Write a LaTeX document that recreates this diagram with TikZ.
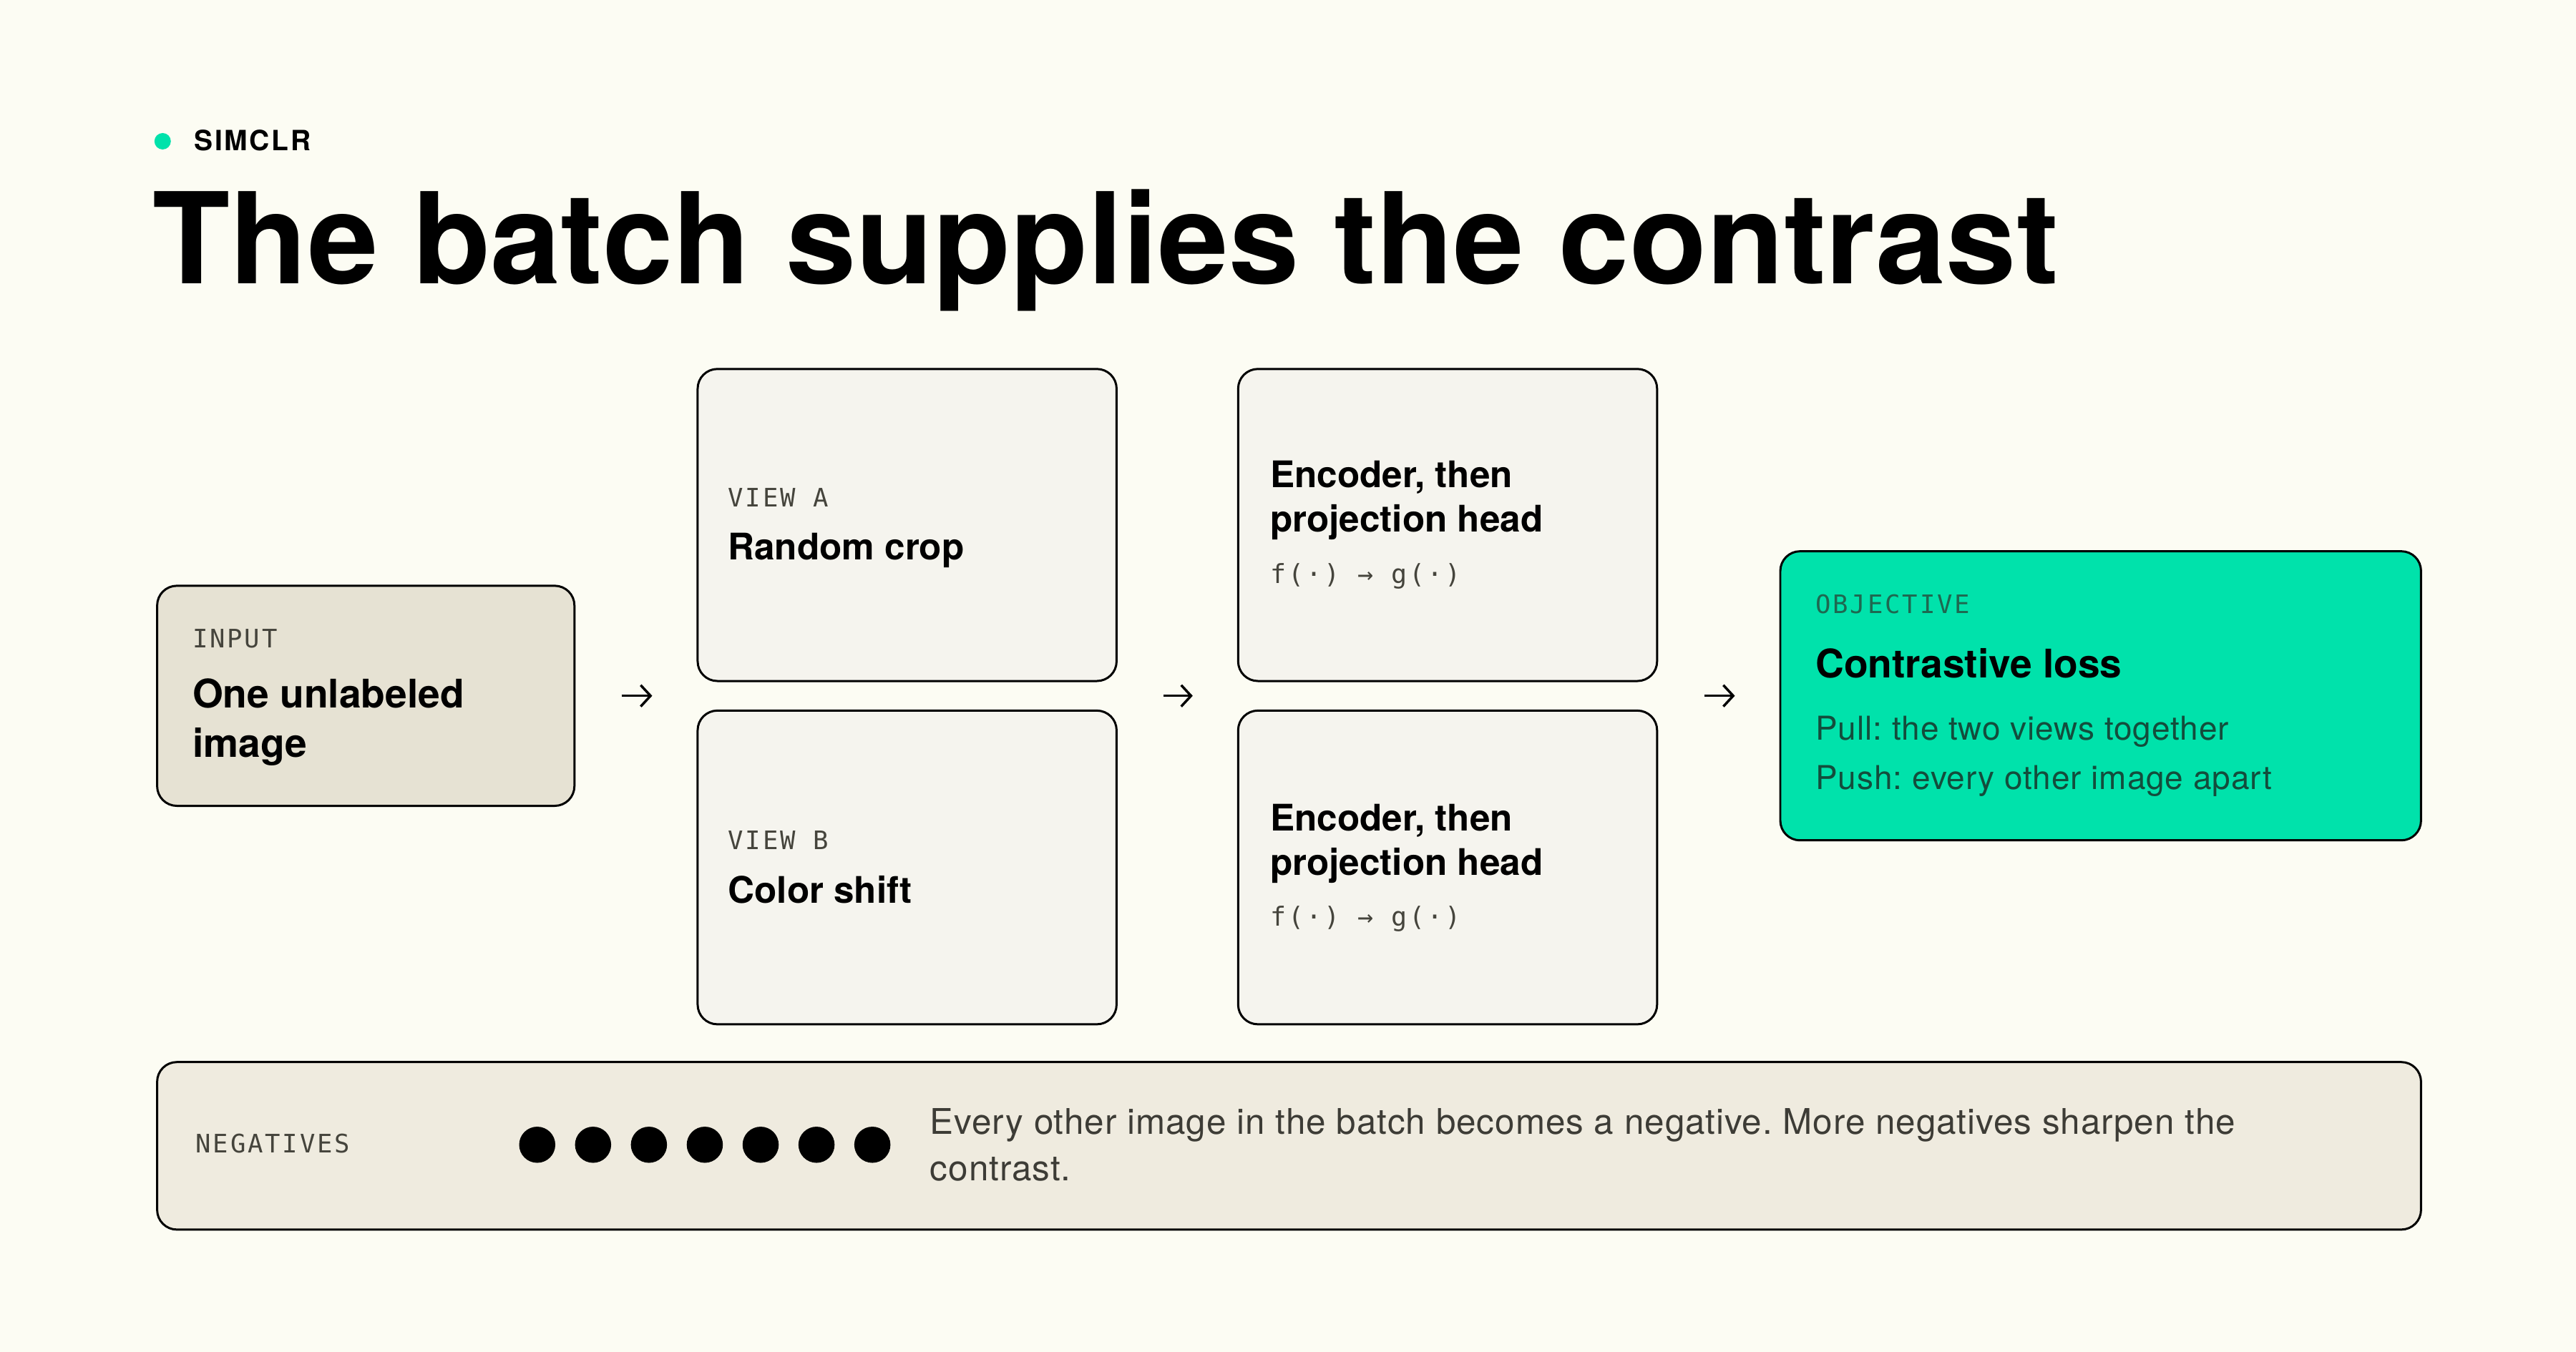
\documentclass[tikz,border=0pt]{standalone}
\usepackage{fontspec}
\setmainfont{TeX Gyre Heros}
\newfontfamily\monofam[LetterSpace=8]{DejaVu Sans Mono}
\newfontfamily\trackfam[LetterSpace=7]{TeX Gyre Heros}
\newfontfamily\bodyfam[LetterSpace=2]{TeX Gyre Heros}
\usetikzlibrary{arrows.meta,calc}

\definecolor{paper}{RGB}{252,252,243}
\definecolor{inputfill}{RGB}{230,226,211}
\definecolor{viewfill}{RGB}{245,244,238}
\definecolor{negfill}{RGB}{239,235,223}
\definecolor{mint}{RGB}{0,226,171}
\definecolor{taggray}{RGB}{69,68,60}
\definecolor{tagmint}{RGB}{30,104,80}
\definecolor{deepmint}{RGB}{19,77,60}
\definecolor{bodygray}{RGB}{61,60,54}

\tikzset{
  box/.style={draw,line width=1.3pt,rounded corners=12pt,fill=#1,inner sep=0pt,anchor=north west},
  txt/.style={anchor=base west,inner sep=0pt},
  tag/.style={txt,text=taggray,font=\monofam\fontsize{15.5}{18}\selectfont},
  head/.style={txt,font=\bfseries\fontsize{22.3}{27}\selectfont},
  bighead/.style={txt,font=\bfseries\fontsize{24}{30}\selectfont},
  body/.style={txt,font=\bodyfam\frenchspacing\fontsize{20}{28}\selectfont},
  formula/.style={txt,text=taggray,font=\monofam\fontsize{16}{18}\selectfont},
  flow/.style={-{Straight Barb[length=6pt,width=13pt,line width=1.5pt]},line width=1.5pt,shorten <=28pt,shorten >=27pt}
}

\begin{document}
\begin{tikzpicture}[x=1pt,y=-1pt]
\fill[paper] (0,0) rectangle (1568,823);
\useasboundingbox (0,0) rectangle (1568,823);

% heading
\fill[mint] (99,86) circle (5pt);
\node[txt,font=\trackfam\bfseries\fontsize{17}{20}\selectfont] (kicker) at (118,91.5) {SIMCLR};
\node[txt,font=\bfseries\fontsize{77}{80}\selectfont] (title) at (93,172.5) {The batch supplies the contrast};

% boxes
\node[box=inputfill,minimum width=254pt,minimum height=134pt] (input) at (95,356) {};
\node[box=viewfill,minimum width=255pt,minimum height=190pt] (viewA) at (424,224) {};
\node[box=viewfill,minimum width=255pt,minimum height=191pt] (viewB) at (424,432) {};
\node[box=viewfill,minimum width=255pt,minimum height=190pt] (encA) at (753,224) {};
\node[box=viewfill,minimum width=255pt,minimum height=191pt] (encB) at (753,432) {};
\node[box=mint,minimum width=390pt,minimum height=176pt] (obj) at (1083,335) {};
\node[box=negfill,minimum width=1378pt,minimum height=102pt] (neg) at (95,646) {};

% texts
\node[tag] (inputtag) at (117,394.6) {INPUT};
\node[bighead] (inputhd1) at (117,431) {One unlabeled};
\node[bighead] (inputhd2) at (117,461) {image};

\node[tag] (viewAtag) at (443,308.5) {VIEW A};
\node[head] (viewAhd) at (443,341) {Random crop};
\node[tag] (viewBtag) at (443,517) {VIEW B};
\node[head] (viewBhd) at (443,550) {Color shift};

\node[head] (encAhd1) at (773,297) {Encoder, then};
\node[head] (encAhd2) at (773,324) {projection head};
\node[formula] (encAfn) at (773,355) {f(·) → g(·)};
\node[head] (encBhd1) at (773,506) {Encoder, then};
\node[head] (encBhd2) at (773,533) {projection head};
\node[formula] (encBfn) at (773,564) {f(·) → g(·)};

\node[tag,text=tagmint] (objtag) at (1105,373.6) {OBJECTIVE};
\node[bighead] (objhd) at (1105,412.5) {Contrastive loss};
\node[body,text=deepmint] (objpull) at (1105,450.4) {Pull: the two views together};
\node[body,text=deepmint] (objpush) at (1105,480.5) {Push: every other image apart};

\node[tag] (negtag) at (119,702) {NEGATIVES};
\foreach \i in {0,...,6}
  \node[circle,fill=black,minimum size=22pt,inner sep=0pt] (dot\i) at (327+34*\i,697) {};
\node[body,text=bodygray,font=\bodyfam\frenchspacing\fontsize{21.5}{28}\selectfont] (negline1) at (566,690.5) {Every other image in the batch becomes a negative. More negatives sharpen the};
\node[body,text=bodygray,font=\bodyfam\frenchspacing\fontsize{21.5}{28}\selectfont] (negline2) at (566,719) {contrast.};

% arrows
\draw[flow] (input.east) -- (input.east -| viewA.west);
\draw[flow] ($(viewA.south east)!.5!(viewB.north east)$) -- ($(encA.south west)!.5!(encB.north west)$);
\draw[flow] ($(encA.south east)!.5!(encB.north east)$) -- (obj.west);
\end{tikzpicture}
\end{document}
